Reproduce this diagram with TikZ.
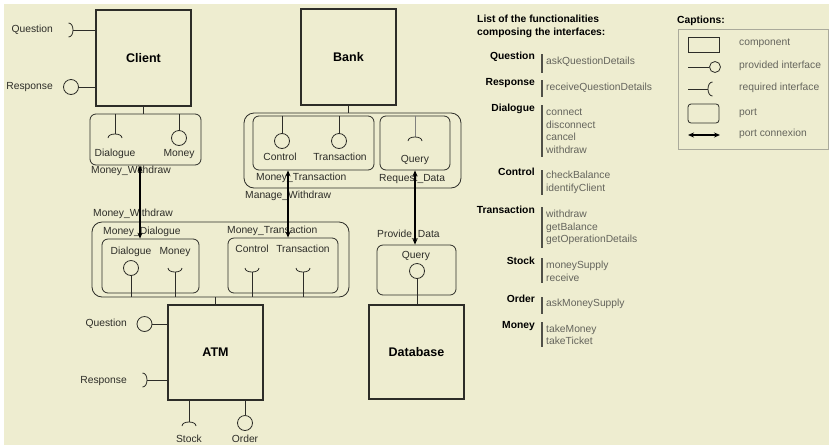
\documentclass[tikz,border=0pt]{standalone}
\usepackage{fontspec}
\setmainfont{Liberation Sans}
\usetikzlibrary{arrows.meta}
\definecolor{bg}{RGB}{238,237,208}
\definecolor{ink}{RGB}{45,45,40}
\definecolor{txt}{RGB}{45,45,40}
\definecolor{itmc}{RGB}{100,100,92}
\definecolor{framec}{RGB}{170,170,155}
\definecolor{barc}{RGB}{80,80,72}
% sockets (required interfaces); argument = apex point where the stem meets the arc
\newcommand\sockDn[1]{\draw[stem] (#1) ++(-7,4) .. controls +(0,-5.33) and +(0,-5.33) .. ++(14,0);}
\newcommand\sockUp[1]{\draw[stem] (#1) ++(-7,-4) .. controls +(0,5.33) and +(0,5.33) .. ++(14,0);}
\newcommand\sockLt[1]{\draw[stem] (#1) ++(-4.5,-7) .. controls +(6,0) and +(6,0) .. ++(0,14);}
\newcommand\sockRt[1]{\draw[stem] (#1) ++(4.5,-7) .. controls +(-6,0) and +(-6,0) .. ++(0,14);}
\begin{document}
\begin{tikzpicture}[x=1pt,y=1pt,yscale=-1,
  comp/.style={draw=ink, line width=1.1pt, minimum width=95pt, minimum height=96pt, inner sep=0pt, font=\fontsize{12.5}{14}\selectfont\bfseries, text=black},
  portbox/.style={draw=ink, line width=0.8pt, rounded corners=6pt, inner sep=0pt},
  outerport/.style={portbox, rounded corners=10pt},
  prov/.style={circle, draw=ink, line width=0.8pt, minimum size=15pt, inner sep=0pt},
  stem/.style={draw=ink, line width=0.8pt},
  lbl/.style={font=\fontsize{10.3}{12}\selectfont, text=txt, inner sep=0pt, text height=7.5pt, text depth=2pt},
  blbl/.style={font=\fontsize{10.3}{12}\selectfont\bfseries, text=black, inner sep=0pt, text height=7.5pt, text depth=2pt},
  itm/.style={font=\fontsize{10.3}{12}\selectfont, text=itmc, inner sep=0pt, anchor=west, text height=7.5pt, text depth=2pt},
  bar/.style={draw=barc, line width=1.5pt},
  conn/.style={{Stealth[length=6pt,width=5pt]}-{Stealth[length=6pt,width=5pt]}, line width=1.4pt, black},
]
\useasboundingbox (0,0) rectangle (829,445);
\fill[white] (0,0) rectangle (829,445);
\fill[bg] (4,4) rectangle (829,445);

% ---------------- Client ----------------
\node[comp] (client) at (143.5,58) {Client};
\coordinate (cq) at (73,30);
\draw[stem] (client.west |- cq) -- (cq);
\sockLt{cq}
\node[lbl,anchor=east] (cqt) at (53,30) {Question};
\node[prov] (cr) at (71,87) {};
\draw[stem] (client.west |- cr) -- (cr.east);
\node[lbl,anchor=east] (crt) at (53,87) {Response};

\node[portbox, minimum width=111pt, minimum height=51pt] (cport) at (145.5,139.5) {};
\draw[stem] (client.south) -- (client.south |- cport.north);
\coordinate (cdl) at (115,134);
\draw[stem] (cport.north -| cdl) -- (cdl);
\sockDn{cdl}
\node[lbl] (cdlt) at (115,154) {Dialogue};
\node[prov] (cmn) at (179,138) {};
\draw[stem] (cport.north -| cmn) -- (cmn.north);
\node[lbl] (cmnt) at (179,154) {Money};
\node[lbl,anchor=west] (cportl) at (91,171) {Money\_Withdraw};

% ---------------- Bank ----------------
\node[comp] (bank) at (348.5,57) {Bank};
\node[outerport, minimum width=217pt, minimum height=75pt] (mgw) at (352.5,150.5) {};
\draw[stem] (bank.south) -- (bank.south |- mgw.north);
\node[portbox, minimum width=121pt, minimum height=54pt] (bmtr) at (313.5,143) {};
\node[portbox, minimum width=70pt, minimum height=54pt] (rqd) at (415,143) {};
\node[prov] (bctl) at (282,141) {};
\draw[stem] (bmtr.north -| bctl) -- (bctl.north);
\node[lbl] (bctlt) at (280,158) {Control};
\node[prov] (btrn) at (339,141) {};
\draw[stem] (bmtr.north -| btrn) -- (btrn.north);
\node[lbl] (btrnt) at (340,158) {Transaction};
\coordinate (bq) at (415,137);
\draw[stem, draw=ink!60] (rqd.north -| bq) -- (bq);
\sockDn{bq}
\node[lbl] (bqt) at (415,160) {Query};
\node[lbl,anchor=west] (bmtrl) at (256,178) {Money\_Transaction};
\node[lbl,anchor=west] (rqdl) at (379,179) {Request\_Data};
\node[lbl,anchor=west] (mgwl) at (245,196) {Manage\_Withdraw};

% ---------------- ATM ports ----------------
\node[outerport, minimum width=257pt, minimum height=75pt] (mwd) at (220.5,259.5) {};
\node[lbl,anchor=west] (mwdl) at (93,214) {Money\_Withdraw};
\node[portbox, minimum width=97pt, minimum height=54pt] (mdlg) at (150.5,266) {};
\node[lbl,anchor=west] (mdlgl) at (103,232) {Money\_Dialogue};
\node[portbox, minimum width=110pt, minimum height=55pt] (mtr) at (283,265.5) {};
\node[lbl,anchor=west] (mtrl) at (227,231) {Money\_Transaction};

\node[lbl] (adlt) at (131,252) {Dialogue};
\node[prov] (adl) at (131,268) {};
\draw[stem] (adl.south) -- (adl.south |- mwd.south);
\node[lbl] (amnt) at (175,252) {Money};
\coordinate (amn) at (175,272);
\sockUp{amn}
\draw[stem] (amn) -- (amn |- mwd.south);
\node[lbl] (actlt) at (252,250) {Control};
\coordinate (actl) at (252,272);
\sockUp{actl}
\draw[stem] (actl) -- (actl |- mwd.south);
\node[lbl] (atrnt) at (303,250) {Transaction};
\coordinate (atrn) at (303,272);
\sockUp{atrn}
\draw[stem] (atrn) -- (atrn |- mwd.south);

% ---------------- ATM ----------------
\node[comp, minimum height=95pt] (atm) at (215.5,352.5) {ATM};
\draw[stem] (mwd.south -| atm.north) -- (atm.north);
\node[prov] (aq) at (144.5,324) {};
\draw[stem] (aq.east) -- (atm.west |- aq);
\node[lbl,anchor=east] (aqt) at (127,324) {Question};
\coordinate (ar) at (147,380);
\sockLt{ar}
\draw[stem] (ar) -- (atm.west |- ar);
\node[lbl,anchor=east] (art) at (127,381) {Response};
\coordinate (ast) at (189,422);
\draw[stem] (atm.south -| ast) -- (ast);
\sockDn{ast}
\node[lbl] (astt) at (189,440) {Stock};
\node[prov] (aor) at (245,423) {};
\draw[stem] (atm.south -| aor) -- (aor.north);
\node[lbl] (aort) at (245,440) {Order};

% ---------------- Database ----------------
\node[comp, minimum height=94pt] (db) at (416.5,352) {Database};
\node[portbox, minimum width=79pt, minimum height=50pt] (pdata) at (416.5,270) {};
\node[lbl,anchor=west] (pdatal) at (377,235) {Provide\_Data};
\node[lbl] (dqt) at (416,256) {Query};
\node[prov] (dq) at (417,271) {};
\draw[stem] (dq.south) -- (dq.south |- db.north);

% ---------------- port connexions ----------------
\coordinate (x1) at (140,0);
\coordinate (x2) at (288,0);
\coordinate (x3) at (415,0);
\draw[conn] (cport.south -| x1) -- (mdlg.north -| x1);
\draw[conn] (bmtr.south -| x2) -- (mtr.north -| x2);
\draw[conn] (rqd.south -| x3) -- (pdata.north -| x3);

% ---------------- list of functionalities ----------------
\node[font=\fontsize{10.3}{13}\selectfont\bfseries, inner sep=0pt, align=left, anchor=north west] (ttl) at (477,15) {List of the functionalities\\composing the interfaces:};

\node[blbl,anchor=east] (kq) at (535,57) {Question};
\draw[bar] (542,54) -- (542,73);
\node[itm] (iq1) at (546,62) {askQuestionDetails};

\node[blbl,anchor=east] (kr) at (535,83) {Response};
\draw[bar] (542,80) -- (542,97);
\node[itm] (ir1) at (546,88) {receiveQuestionDetails};

\node[blbl,anchor=east] (kd) at (535,109) {Dialogue};
\draw[bar] (542,105) -- (542,157);
\foreach \t/\y [count=\i] in {connect/113, disconnect/126, cancel/138, withdraw/151}
  \node[itm] (id\i) at (546,\y) {\t};

\node[blbl,anchor=east] (kc) at (535,173) {Control};
\draw[bar] (542,170) -- (542,195);
\foreach \t/\y [count=\i] in {checkBalance/176, identifyClient/189}
  \node[itm] (ic\i) at (546,\y) {\t};

\node[blbl,anchor=east] (kt) at (535,211) {Transaction};
\draw[bar] (542,207) -- (542,248);
\foreach \t/\y [count=\i] in {withdraw/215, getBalance/228, getOperationDetails/240}
  \node[itm] (it\i) at (546,\y) {\t};

\node[blbl,anchor=east] (ks) at (535,262) {Stock};
\draw[bar] (542,258) -- (542,283);
\foreach \t/\y [count=\i] in {moneySupply/266, receive/279}
  \node[itm] (is\i) at (546,\y) {\t};

\node[blbl,anchor=east] (ko) at (535,300) {Order};
\draw[bar] (542,297) -- (542,314);
\node[itm] (io1) at (546,304) {askMoneySupply};

\node[blbl,anchor=east] (km) at (535,326) {Money};
\draw[bar] (542,322) -- (542,347);
\foreach \t/\y [count=\i] in {takeMoney/330, takeTicket/342}
  \node[itm] (im\i) at (546,\y) {\t};

% ---------------- captions ----------------
\node[blbl,anchor=west] (cap) at (677,21) {Captions:};
\node[draw=framec, line width=0.8pt, minimum width=150pt, minimum height=120pt, inner sep=0pt] (capbox) at (753,89) {};
\node[draw=ink, line width=0.8pt, minimum width=31pt, minimum height=15pt, inner sep=0pt] (lgc) at (703.5,44.5) {};
\node[itm] (lgct) at (739,43) {component};
\coordinate (lgp0) at (688,67);
\node[prov, minimum size=11pt] (lgp) at (715,67) {};
\draw[stem] (lgp0) -- (lgp.west);
\node[itm] (lgpt) at (739,66) {provided interface};
\coordinate (lgr0) at (688,89);
\coordinate (lgr) at (708,89);
\draw[stem] (lgr0) -- (lgr);
\sockRt{lgr}
\node[itm] (lgrt) at (739,88) {required interface};
\node[portbox, rounded corners=3pt, minimum width=31pt, minimum height=19pt] (lgport) at (703.5,113.5) {};
\node[itm] (lgportt) at (739,113) {port};
\coordinate (lgx0) at (688,135);
\coordinate (lgx1) at (720,135);
\draw[conn] (lgx0) -- (lgx1);
\node[itm] (lgxt) at (739,134) {port connexion};
\end{tikzpicture}
\end{document}
